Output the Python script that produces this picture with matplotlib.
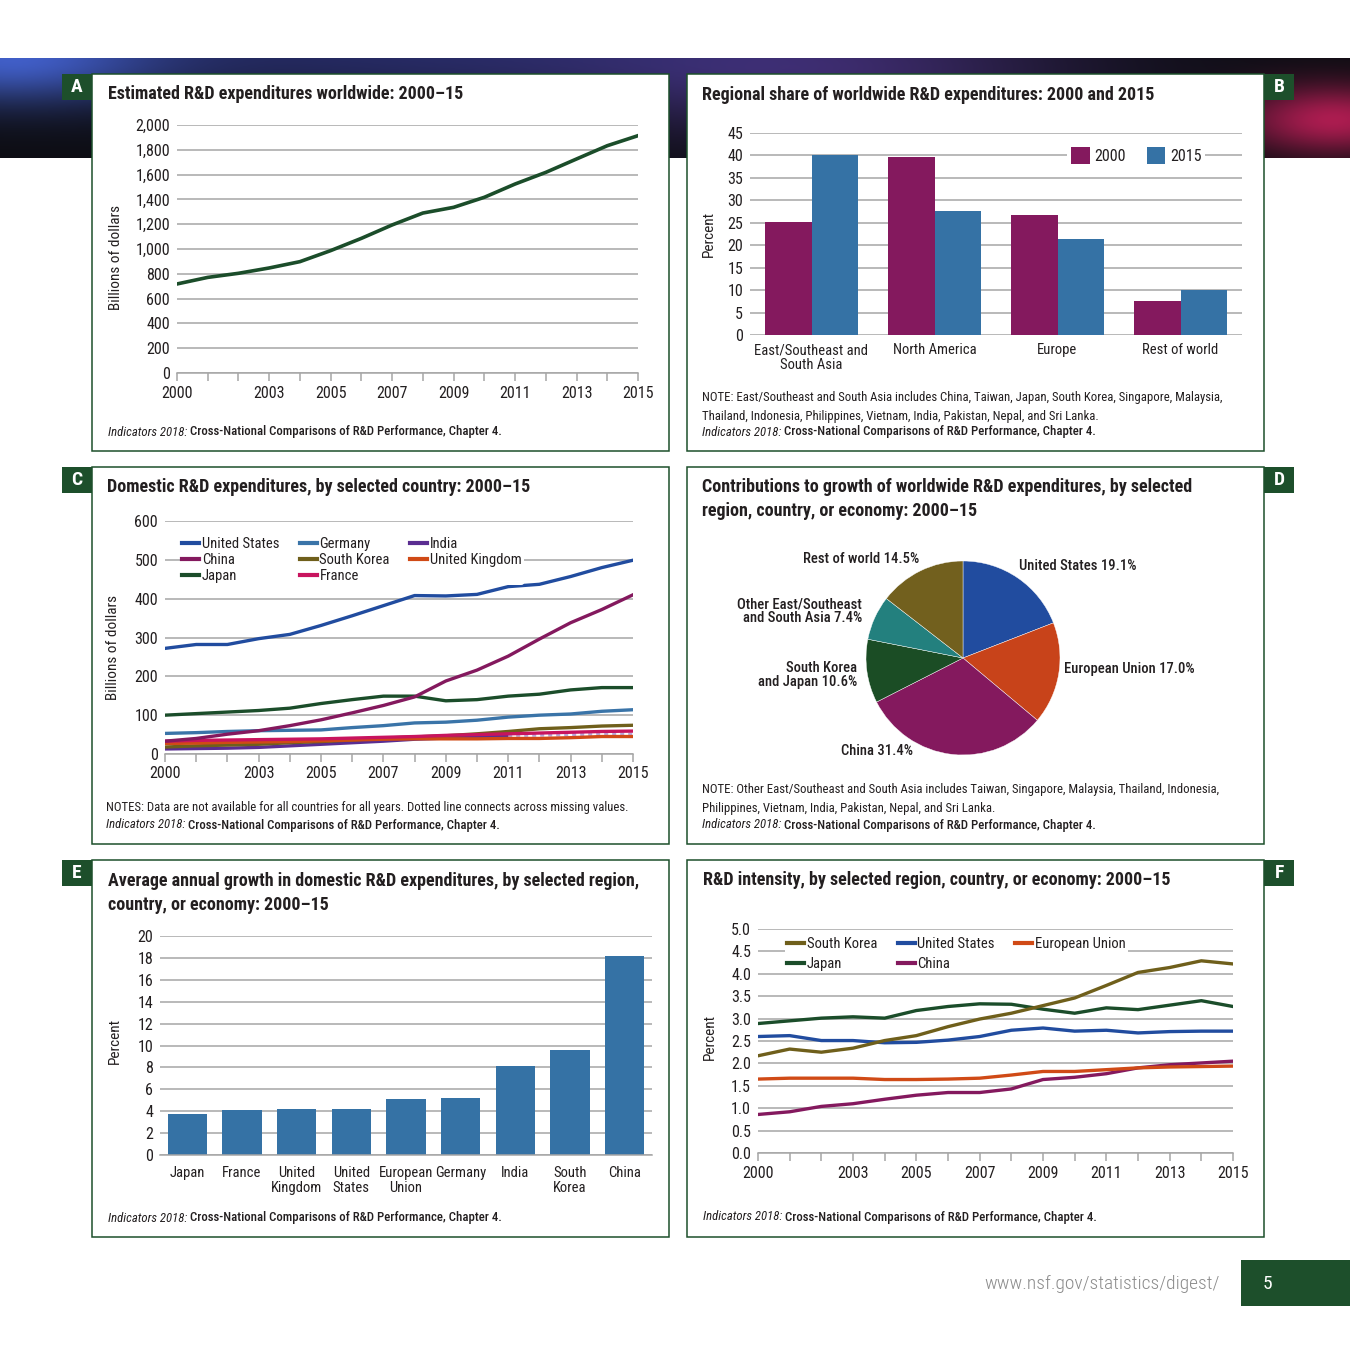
import numpy as np
import matplotlib
matplotlib.use('Agg')
import matplotlib.pyplot as plt
from matplotlib.patches import Rectangle
from matplotlib.lines import Line2D

plt.rcParams['font.family'] = ['Roboto Condensed', 'Archivo Narrow', 'DejaVu Sans']
plt.rcParams['text.color'] = '#231f20'
plt.rcParams['xtick.color'] = '#231f20'
plt.rcParams['ytick.color'] = '#231f20'

# ---------------- data ----------------
years = list(range(2000, 2016))
label_years = [2000, 2003, 2005, 2007, 2009, 2011, 2013, 2015]

world_total = [718, 771, 804, 847, 898, 987, 1086, 1194, 1290, 1336, 1417,
               1524, 1618, 1726, 1833, 1914]

regions_b = ['East/Southeast and\nSouth Asia', 'North America', 'Europe', 'Rest of world']
share_2000 = [25.1, 39.6, 26.7, 7.5]
share_2015 = [40.1, 27.6, 21.4, 10.0]

dom_us = [272, 282, 282, 297, 308, 331, 356, 382, 408, 407, 411, 431, 437, 457, 480, 499]
dom_china = [33, 40, 51, 60, 73, 88, 106, 125, 147, 188, 216, 252, 296, 338, 372, 410]
dom_japan = [100, 104, 108, 112, 118, 130, 140, 149, 149, 137, 140, 149, 154, 165, 171, 171]
dom_germany = [53, 55, 58, 60, 61, 62, 68, 73, 80, 82, 87, 95, 100, 103, 110, 114]
dom_skorea = [18, 21, 23, 25, 29, 32, 36, 41, 44, 47, 52, 58, 65, 68, 72, 74]
dom_france = [33, 35, 36, 37, 38, 39, 41, 43, 45, 48, 50, 52, 54, 56, 58, 59]
dom_india = [13, 14, 15, 17, 21, 25, 29, 33, 38, 41, 44, 48, np.nan, np.nan, np.nan, 51]
dom_uk = [27, 28, 30, 31, 32, 34, 36, 38, 39, 39, 39, 40, 40, 42, 45, 45]

pie_labels = ['United States', 'European Union', 'China', 'South Korea and Japan',
              'Other East/Southeast and South Asia', 'Rest of world']
pie_values = [19.1, 17.0, 31.4, 10.6, 7.4, 14.5]

growth_names = ['Japan', 'France', 'United\nKingdom', 'United\nStates', 'European\nUnion',
                'Germany', 'India', 'South\nKorea', 'China']
growth_values = [3.7, 4.1, 4.2, 4.2, 5.1, 5.2, 8.1, 9.6, 18.2]

int_skorea = [2.17, 2.32, 2.25, 2.34, 2.51, 2.62, 2.82, 2.99, 3.12, 3.29, 3.46, 3.74, 4.03, 4.14, 4.29, 4.22]
int_japan = [2.89, 2.95, 3.01, 3.04, 3.01, 3.18, 3.27, 3.33, 3.32, 3.21, 3.12, 3.24, 3.20, 3.30, 3.40, 3.27]
int_us = [2.60, 2.62, 2.51, 2.51, 2.46, 2.47, 2.52, 2.60, 2.74, 2.79, 2.72, 2.74, 2.68, 2.71, 2.72, 2.72]
int_eu = [1.65, 1.67, 1.67, 1.67, 1.64, 1.64, 1.65, 1.67, 1.74, 1.82, 1.82, 1.86, 1.90, 1.92, 1.93, 1.94]
int_china = [0.86, 0.92, 1.04, 1.10, 1.20, 1.29, 1.35, 1.35, 1.43, 1.64, 1.69, 1.77, 1.90, 1.97, 2.01, 2.05]

# ---------------- colours ----------------
GREEN = '#1d4f2b'
GRID = '#a6a6a6'
C_US = '#214c9f'
C_CHINA = '#84195e'
C_JAPAN = '#1b4d2a'
C_GERMANY = '#3a74a8'
C_SKOREA = '#6f5f1b'
C_FRANCE = '#c8145e'
C_INDIA = '#5a2d91'
C_UK = '#d04a16'
C_BAR = '#3572a5'

FS_TITLE = 13
FS_TICK = 11.5
FS_LABEL = 10.5
FS_NOTE = 9.2

W = H = 1350
fig = plt.figure(figsize=(13.5, 13.5), dpi=100)
fig.patch.set_facecolor('white')

bg = fig.add_axes([0, 0, 1, 1])

# banner
xs = np.linspace(0, W, 675)
ys = np.linspace(58, 158, 60)
X, Y = np.meshgrid(xs, ys)
img = np.zeros(X.shape + (3,)) + np.array([0.05, 0.05, 0.07])
blobs = [((0.17, 0.28, 0.60), 0, 58, 150, 45),
         ((0.09, 0.11, 0.30), 380, 50, 380, 60),
         ((0.17, 0.10, 0.30), 820, 70, 260, 70),
         ((0.62, 0.06, 0.24), 1335, 120, 95, 35)]
for col, cx, cy, sx, sy in blobs:
    g = np.exp(-((X - cx) / sx) ** 2 - ((Y - cy) / sy) ** 2)
    img += g[..., None] * np.array(col)
img = np.clip(img, 0, 1)
bg.imshow(img, extent=[0, W, 158, 58], aspect='auto', interpolation='bilinear')
bg.set_xlim(0, W)
bg.set_ylim(H, 0)
bg.axis('off')

panels = {'A': (92, 74, 669, 451, 'left'), 'B': (687, 74, 1264, 451, 'right'),
          'C': (92, 467, 669, 844, 'left'), 'D': (687, 467, 1264, 844, 'right'),
          'E': (92, 860, 669, 1237, 'left'), 'F': (687, 860, 1264, 1237, 'right')}
for key, (x0, y0, x1, y1, side) in panels.items():
    bg.add_patch(Rectangle((x0, y0), x1 - x0, y1 - y0, facecolor='white',
                           edgecolor=GREEN, lw=1.1))
    bx = x0 - 30 if side == 'left' else x1
    bg.add_patch(Rectangle((bx, y0), 30, 26, facecolor=GREEN, edgecolor='none'))
    bg.text(bx + 15, y0 + 13, key, color='white', fontsize=14, fontweight='bold',
            ha='center', va='center')

# footer
bg.add_patch(Rectangle((1241, 1260), 109, 46, facecolor=GREEN, edgecolor='none'))
bg.text(1267, 1284, '5', color='white', fontsize=14, ha='center', va='center')
bg.text(1220, 1284, 'www.nsf.gov/statistics/digest/', color='#8c8c8c', fontsize=14,
        ha='right', va='center', fontweight='light')


def px_axes(x0, y0, x1, y1):
    ax = fig.add_axes([x0 / W, 1 - y1 / H, (x1 - x0) / W, (y1 - y0) / H])
    ax.set_facecolor('none')
    return ax


def title(x, y, s):
    bg.text(x, y, s, fontsize=FS_TITLE, fontweight='bold', ha='left', va='center',
            linespacing=1.42)


def source(x, y):
    t1 = bg.text(x, y, 'Indicators 2018:', fontsize=FS_NOTE, style='italic', ha='left',
                 va='center')
    bg.annotate(' Cross-National Comparisons of R&D Performance, Chapter 4.',
                xy=(1, 0), xycoords=t1, fontsize=FS_NOTE, ha='left', va='bottom',
                fontweight='medium')


def note(x, y, s):
    bg.text(x, y, s, fontsize=FS_NOTE, ha='left', va='center', linespacing=1.58)


def ylab(x, y, s):
    bg.text(x, y, s, fontsize=11, rotation=90, ha='center', va='center')


def clean_legend(leg):
    leg.get_frame().set_facecolor('white')
    leg.get_frame().set_edgecolor('none')
    leg.get_frame().set_alpha(1)


def style_common(ax):
    for s in ['top', 'right', 'left']:
        ax.spines[s].set_visible(False)
    ax.spines['bottom'].set_color(GRID)
    ax.spines['bottom'].set_linewidth(1.1)
    ax.yaxis.grid(True, color=GRID, lw=1.1)
    ax.set_axisbelow(True)
    ax.tick_params(axis='y', length=0, labelsize=FS_TICK, pad=5)


def style_years(ax, ymax, ystep, fmt):
    style_common(ax)
    ax.set_xlim(2000, 2015)
    ax.set_ylim(0, ymax)
    ax.set_xticks(label_years)
    ax.set_xticks(years, minor=True)
    ticks = np.arange(0, ymax + ystep / 2, ystep)
    ax.set_yticks(ticks)
    ax.set_yticklabels([fmt(v) for v in ticks])
    ax.tick_params(axis='x', which='both', direction='out', length=6, width=1.1,
                   color=GRID, labelsize=FS_TICK, pad=3)


def line_legend(ax, items, anchor, spacing):
    leg = ax.legend([Line2D([], [], color=c, lw=3) for _, c in items],
                    [n for n, _ in items], loc='upper left', bbox_to_anchor=anchor,
                    ncol=3, fontsize=FS_LABEL, handlelength=1.15, handletextpad=0.2,
                    columnspacing=1.4, labelspacing=spacing, borderpad=0.15,
                    borderaxespad=0, frameon=True)
    clean_legend(leg)
    return leg


# ---------------- A ----------------
title(108, 94, 'Estimated R&D expenditures worldwide: 2000–15')
axA = px_axes(177, 125, 638, 373)
axA.plot(years, world_total, color=C_JAPAN, lw=2.6)
style_years(axA, 2000, 200, lambda v: f'{int(v):,}')
ylab(116, 257, 'Billions of dollars')
source(108, 432)

# ---------------- B ----------------
title(702, 95, 'Regional share of worldwide R&D expenditures: 2000 and 2015')
axB = px_axes(750, 133, 1242, 335)
xb = np.arange(len(regions_b))
axB.bar(xb - 0.19, share_2000, width=0.38, color=C_CHINA, label='2000')
axB.bar(xb + 0.19, share_2015, width=0.38, color=C_BAR, label='2015')
style_common(axB)
axB.spines['bottom'].set_visible(False)
axB.set_xlim(-0.5, 3.5)
axB.set_ylim(0, 45)
axB.set_yticks(range(0, 46, 5))
axB.set_xticks(xb)
axB.set_xticklabels(regions_b, linespacing=1.05)
axB.tick_params(axis='x', length=0, labelsize=FS_LABEL, pad=6)
legB = axB.legend(loc='center left', bbox_to_anchor=(0.645, 0.889), ncol=2,
                  frameon=True, fontsize=FS_TICK, handlelength=1.15, handleheight=1.3,
                  handletextpad=0.3, columnspacing=1.3, borderpad=0.25,
                  borderaxespad=0)
clean_legend(legB)
ylab(709, 234, 'Percent')
note(702, 407, 'NOTE: East/Southeast and South Asia includes China, Taiwan, Japan, South Korea, '
     'Singapore, Malaysia,\nThailand, Indonesia, Philippines, Vietnam, India, Pakistan, Nepal, '
     'and Sri Lanka.')
source(702, 432)

# ---------------- C ----------------
title(107, 487, 'Domestic R&D expenditures, by selected country: 2000–15')
axC = px_axes(165, 521, 633, 754)
lw = 2.4
axC.plot(years, dom_germany, color=C_GERMANY, lw=lw)
axC.plot(years, dom_india, color=C_INDIA, lw=lw)
axC.plot([years[11], years[15]], [dom_india[11], dom_india[15]], color='#b9a7dd',
         lw=lw, ls=(0, (1.2, 1.2)))
axC.plot(years, dom_skorea, color=C_SKOREA, lw=lw)
axC.plot(years, dom_uk, color=C_UK, lw=lw)
axC.plot(years, dom_france, color=C_FRANCE, lw=lw)
axC.plot(years, dom_japan, color=C_JAPAN, lw=lw)
axC.plot(years, dom_china, color=C_CHINA, lw=lw)
axC.plot(years, dom_us, color=C_US, lw=lw)
style_years(axC, 600, 100, lambda v: f'{int(v)}')
leg_items = [('United States', C_US), ('China', C_CHINA), ('Japan', C_JAPAN),
             ('Germany', C_GERMANY), ('South Korea', C_SKOREA), ('France', C_FRANCE),
             ('India', C_INDIA), ('United Kingdom', C_UK)]
line_legend(axC, leg_items, (0.032, 0.94), 0.14)
ylab(113, 647, 'Billions of dollars')
note(106, 807, 'NOTES: Data are not available for all countries for all years. '
     'Dotted line connects across missing values.')
source(106, 825)

# ---------------- D ----------------
title(702, 499, 'Contributions to growth of worldwide R&D expenditures, by selected\n'
      'region, country, or economy: 2000–15')
axD = px_axes(866, 561, 1060, 755)
pie_colors = [C_US, '#c8431a', C_CHINA, '#1b4d25', '#23807e', '#72601e']
axD.pie(pie_values, colors=pie_colors, startangle=90, counterclock=False,
        wedgeprops=dict(edgecolor='white', lw=0.3))
axD.set_xlim(-1, 1)
axD.set_ylim(-1, 1)
axD.set_aspect('equal')
pie_txt = [(1019, 566, 'left', 'United States 19.1%'),
           (1064, 669, 'left', 'European Union 17.0%'),
           (841, 751, 'left', 'China 31.4%'),
           (857, 675, 'right', 'South Korea\nand Japan 10.6%'),
           (862, 611, 'right', 'Other East/Southeast\nand South Asia 7.4%'),
           (919, 559, 'right', 'Rest of world 14.5%')]
for tx, ty, ha, s in pie_txt:
    bg.text(tx, ty, s, fontsize=FS_LABEL, ha=ha, va='center', linespacing=0.95,
            multialignment='right' if ha == 'right' else 'left', fontweight='medium')
note(702, 799, 'NOTE: Other East/Southeast and South Asia includes Taiwan, Singapore, '
     'Malaysia, Thailand, Indonesia,\nPhilippines, Vietnam, India, Pakistan, Nepal, and Sri Lanka.')
source(702, 825)

# ---------------- E ----------------
title(108, 893, 'Average annual growth in domestic R&D expenditures, by selected region,\n'
      'country, or economy: 2000–15')
axE = px_axes(160, 936, 652, 1155)
xe = np.arange(len(growth_names))
axE.bar(xe, growth_values, width=0.72, color=C_BAR)
style_common(axE)
axE.set_xlim(-0.5, len(growth_names) - 0.5)
axE.set_ylim(0, 20)
axE.set_yticks(range(0, 21, 2))
axE.set_xticks(xe)
axE.set_xticklabels(growth_names, linespacing=1.05, va='top')
axE.tick_params(axis='x', length=0, labelsize=FS_LABEL, pad=8)
ylab(115, 1041, 'Percent')
source(108, 1218)

# ---------------- F ----------------
title(703, 880, 'R&D intensity, by selected region, country, or economy: 2000–15')
axF = px_axes(758, 929, 1233, 1153)
axF.plot(years, int_china, color=C_CHINA, lw=lw)
axF.plot(years, int_eu, color=C_UK, lw=lw)
axF.plot(years, int_us, color=C_US, lw=lw)
axF.plot(years, int_japan, color=C_JAPAN, lw=lw)
axF.plot(years, int_skorea, color=C_SKOREA, lw=lw)
style_years(axF, 5, 0.5, lambda v: f'{v:.1f}')
f_items = [('South Korea', C_SKOREA), ('Japan', C_JAPAN), ('United States', C_US),
           ('China', C_CHINA), ('European Union', C_UK)]
line_legend(axF, f_items, (0.057, 0.972), 0.4)
ylab(710, 1037, 'Percent')
source(703, 1217)

fig.savefig('out.png', dpi=100)
